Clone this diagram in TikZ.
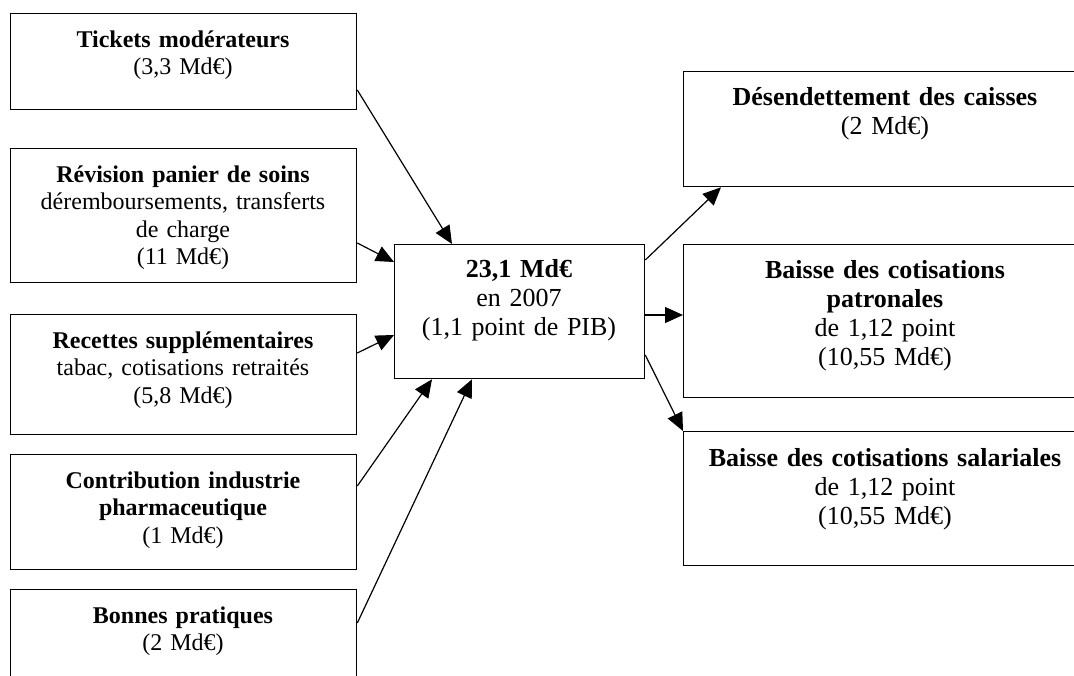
\documentclass[tikz,border=0pt]{standalone}
\usepackage{fontspec}
\setmainfont{Liberation Serif}
\usetikzlibrary{arrows.meta,calc}
\tikzset{
  box/.style={draw, line width=1.3pt, inner sep=0pt, anchor=north west},
  lbox/.style={box, minimum width=346pt},
  ltxt/.style={anchor=base, text width=340pt, align=center, inner sep=0pt,
    font=\fontsize{24}{27.6}\selectfont},
  rtxt/.style={anchor=base, text width=400pt, align=center, inner sep=0pt,
    font=\fontsize{26}{29}\selectfont},
  arr/.style={line width=1.2pt, -{Triangle[length=18pt,width=16pt]}}
}
\begin{document}
\begin{tikzpicture}[x=1pt,y=-1pt]
\useasboundingbox (0,0) rectangle (1074,675);
\clip (0,0) rectangle (1074,675);
% left boxes
\node[lbox, minimum height=96pt] (t1) at (10,13) {};
\node[lbox, minimum height=134pt] (t2) at (10,148) {};
\node[lbox, minimum height=120pt] (t3) at (10,314) {};
\node[lbox, minimum height=115pt] (t4) at (10,454) {};
\node[lbox, minimum height=130pt] (t5) at (10,589) {};
\node[ltxt] (t1l) at (183,47) {\textbf{Tickets modérateurs}\\(3,3 Md€)};
\node[ltxt] (t2l) at (183,182) {\textbf{Révision panier de soins}\\déremboursements, transferts\\de charge\\(11 Md€)};
\node[ltxt] (t3l) at (183,348) {\textbf{Recettes supplémentaires}\\tabac, cotisations retraités\\(5,8 Md€)};
\node[ltxt] (t4l) at (183,488) {\textbf{Contribution industrie}\\\textbf{pharmaceutique}\\(1 Md€)};
\node[ltxt] (t5l) at (183,623) {\textbf{Bonnes pratiques}\\(2 Md€)};
% centre
\node[box, minimum width=250pt, minimum height=134pt] (c) at (394,244) {};
\node[rtxt, text width=245pt] (cl) at (519,277) {\textbf{23,1 Md€}\\en 2007\\(1,1 point de PIB)};
% right boxes
\node[box, minimum width=404pt, minimum height=115pt] (r1) at (683,71) {};
\node[box, minimum width=404pt, minimum height=153pt] (r2) at (683,244) {};
\node[box, minimum width=404pt, minimum height=134pt] (r3) at (683,431) {};
\node[rtxt] (r1l) at (885,105) {\textbf{Désendettement des caisses}\\(2 Md€)};
\node[rtxt] (r2l) at (885,278) {\textbf{Baisse des cotisations}\\\textbf{patronales}\\de 1,12 point\\(10,55 Md€)};
\node[rtxt] (r3l) at (885,466) {\textbf{Baisse des cotisations salariales}\\de 1,12 point\\(10,55 Md€)};
% connectors
\draw[arr] ($(t1.north east)+(0,77)$) -- ($(c.north west)+(58,0)$);
\draw[arr] ($(t2.north east)+(0,95)$) -- ($(c.north west)+(0,18)$);
\draw[arr] ($(t3.north east)+(0,39)$) -- ($(c.north west)+(0,91)$);
\draw[arr] ($(t4.north east)+(0,32)$) -- ($(c.south west)+(38,0)$);
\draw[arr] ($(t5.north east)+(0,34)$) -- ($(c.south west)+(78,0)$);
\draw[arr] ($(c.north east)+(0,16)$) -- ($(r1.south west)+(38,0)$);
\draw[arr] ($(c.north east)+(0,71)$) -- ($(r2.north west)+(0,71)$);
\draw[arr] ($(c.north east)+(0,111)$) -- (r3.north west);
\end{tikzpicture}
\end{document}
